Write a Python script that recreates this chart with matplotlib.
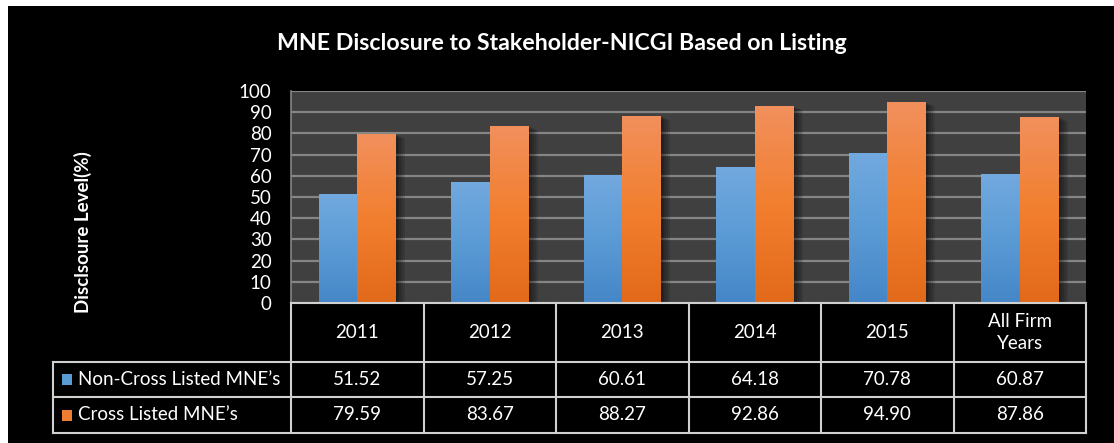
import numpy as np
from matplotlib import pyplot as plt
from matplotlib.colors import LinearSegmentedColormap
from matplotlib.patches import Rectangle
import matplotlib.patheffects as pe

plt.rcParams['font.family'] = ['Lato', 'DejaVu Sans']

# ---------------- data ----------------
categories = ['2011', '2012', '2013', '2014', '2015', 'All Firm\nYears']
non_cross = [51.52, 57.25, 60.61, 64.18, 70.78, 60.87]
cross = [79.59, 83.67, 88.27, 92.86, 94.90, 87.86]
series_names = ['Non-Cross Listed MNE\u2019s', 'Cross Listed MNE\u2019s']
yticks = list(range(0, 101, 10))

W, H = 1114, 443
fig = plt.figure(figsize=(W / 100, H / 100), dpi=100, facecolor='white')

# black panel
fig.patches.append(Rectangle((8 / W, 0), 1 - 8 / W, 1 - 6 / H, transform=fig.transFigure,
                             facecolor='black', edgecolor='none', zorder=-5))

ax = fig.add_axes([291 / W, (H - 303) / H, (1086 - 291) / W, (303 - 91) / H])
ax.set_facecolor('#404040')

blue_cm = LinearSegmentedColormap.from_list('b', ['#4586c8', '#5b9bd5', '#72a9df'])
orange_cm = LinearSegmentedColormap.from_list('o', ['#e2691a', '#f27f2f', '#f1905d'])
grad = np.linspace(0, 1, 256).reshape(-1, 1)

x = np.arange(len(categories))
bw = 0.29
# soft shadow: a few stacked faint offsets
shadow = [pe.SimplePatchShadow(offset=(o, -o * 0.4), shadow_rgbFace='black', alpha=0.12)
          for o in (7, 5.5, 4, 2.5, 1.5)] + [pe.Normal()]
b1 = ax.bar(x - bw / 2, non_cross, bw, color='#5b9bd5', zorder=3, path_effects=shadow)
b2 = ax.bar(x + bw / 2, cross, bw, color='#ed7d31', zorder=3, path_effects=shadow)
for bars, cm in ((b1, blue_cm), (b2, orange_cm)):
    for r in bars:
        x0, w, h = r.get_x(), r.get_width(), r.get_height()
        im = ax.imshow(grad, extent=[x0, x0 + w, 0, h], origin='lower', aspect='auto',
                       cmap=cm, zorder=4)
        im.set_clip_path(r)

ax.set_xlim(-0.5, len(categories) - 0.5)
ax.set_ylim(0, 100)
ax.set_yticks(yticks)
ax.yaxis.grid(True, color='#858585', linewidth=1.6, zorder=1)
ax.set_axisbelow(True)
ax.set_xticks([])
ax.tick_params(axis='y', length=0, pad=14, labelsize=13.5, labelcolor='white')
for s in ['top', 'right', 'bottom']:
    ax.spines[s].set_visible(False)
ax.spines['left'].set_color('#858585')
ax.spines['left'].set_linewidth(1.2)

fig.text(562 / W, 1 - 44 / H, 'MNE Disclosure to Stakeholder-NICGI Based on Listing',
         ha='center', va='center', color='white', fontsize=16.7, fontweight='bold')
fig.text(83 / W, 1 - 232 / H, 'Disclsoure Level(%)', rotation=90, ha='center', va='center',
         color='white', fontsize=13.5, fontweight='bold')

# ---------------- data table ----------------
unit = (1086 - 291) / len(categories)
left_units = (291 - 53) / unit
tab = fig.add_axes([53 / W, (H - 433) / H, (1086 - 53) / W, (433 - 303) / H])
tab.set_xlim(-0.5 - left_units, len(categories) - 0.5)
tab.set_ylim(0, 130)
tab.axis('off')
lc = '#d0d0d0'
lw = 1.5
xl = -0.5 - left_units
xr = len(categories) - 0.5
for yy in (0, 36, 71):
    tab.plot([xl, xr], [yy, yy], color=lc, lw=lw, clip_on=False)
tab.plot([-0.5, xr], [130, 130], color=lc, lw=lw, clip_on=False)
tab.plot([xl, xl], [0, 71], color=lc, lw=lw, clip_on=False)
for i in range(len(categories) + 1):
    tab.plot([i - 0.5, i - 0.5], [0, 130], color=lc, lw=lw, clip_on=False)

fs = 13.5
for i, c in enumerate(categories):
    tab.text(i, 100.5, c, ha='center', va='center', color='white', fontsize=fs, linespacing=1.4)
    tab.text(i, 53.5, f'{non_cross[i]:.2f}', ha='center', va='center', color='white', fontsize=fs)
    tab.text(i, 18, f'{cross[i]:.2f}', ha='center', va='center', color='white', fontsize=fs)

sq = 10 / unit
for yy, col, name in ((53.5, '#5b9bd5', series_names[0]), (18, '#ed7d31', series_names[1])):
    tab.add_patch(Rectangle((xl + 9 / unit, yy - 5.5), sq, 11, facecolor=col, edgecolor='none'))
    tab.text(xl + 25 / unit, yy, name, ha='left', va='center', color='white', fontsize=fs)

fig.savefig('out.png', dpi=100, facecolor='white')
